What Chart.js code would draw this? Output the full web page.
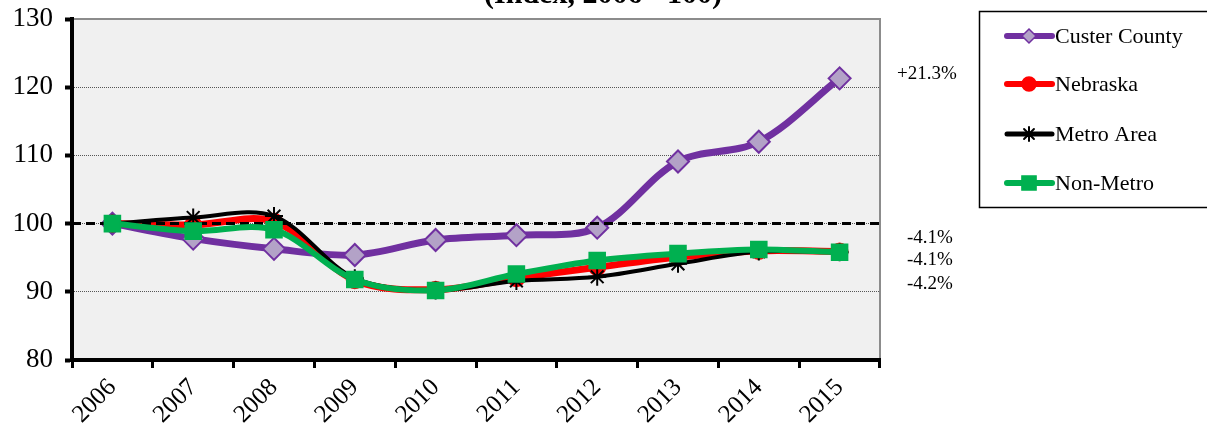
<!DOCTYPE html>
<html>
<head>
<meta charset="utf-8">
<script src="https://cdn.jsdelivr.net/npm/chart.js@4.4.1/dist/chart.umd.min.js"></script>
<style>
  html, body { margin: 0; padding: 0; background: #fff; }
  canvas { display: block; }
</style>
</head>
<body>
<canvas id="chart" width="1207" height="423"></canvas>
<script>
'use strict';

// ── Data ──────────────────────────────────────────────
const YEARS      = ['2006', '2007', '2008', '2009', '2010', '2011', '2012', '2013', '2014', '2015'];
const CUSTER     = [100, 97.8, 96.3, 95.4, 97.6, 98.3, 99.4, 109.1, 112.0, 121.3];
const NEBRASKA   = [100, 99.8, 100.3, 91.7, 90.3, 92.0, 93.6, 95.1, 96.0, 95.9];
const METRO      = [100, 100.9, 101.1, 92.0, 90.2, 91.6, 92.2, 94.1, 95.9, 95.8];
const NON_METRO  = [100, 98.9, 99.1, 91.8, 90.2, 92.6, 94.6, 95.6, 96.2, 95.8];
const Y_TICKS    = [80, 90, 100, 110, 120, 130];
const BASELINE   = 100;
const END_LABELS = [
  { text: '+21.3%', x: 897, y: 74 },
  { text: '-4.1%',  x: 907, y: 238 },
  { text: '-4.1%',  x: 907, y: 260 },
  { text: '-4.2%',  x: 907, y: 284 },
];
const TITLE = '(Index, 2006 =100)';

const SERIF = "'Liberation Serif', 'Times New Roman', serif";

const SERIES = [
  { label: 'Custer County', data: CUSTER,    color: '#7030a0', fill: '#b3a2c7', style: 'rectRot', r: 11, lw: 7, order: 3 },
  { label: 'Nebraska',      data: NEBRASKA,  color: '#ff0000', fill: '#ff0000', style: 'circle',  r: 8,  lw: 7, order: 2 },
  { label: 'Metro Area',    data: METRO,     color: '#000000', fill: '#000000', style: 'star',    r: 9,  lw: 4, order: 1 },
  { label: 'Non-Metro',     data: NON_METRO, color: '#00b050', fill: '#00b050', style: 'rect',    r: 11, lw: 6, order: 0 },
];

// ── Plugins ───────────────────────────────────────────

const plotBg = {
  id: 'plotBg',
  beforeDraw(chart) {
    const { ctx, chartArea: a } = chart;
    ctx.save();
    ctx.fillStyle = '#f0f0f0';
    ctx.fillRect(a.left, a.top, a.right - a.left, a.bottom - a.top);
    ctx.strokeStyle = '#8c8c8c';
    ctx.lineWidth = 2;
    ctx.beginPath();
    ctx.moveTo(a.left, a.top);
    ctx.lineTo(a.right, a.top);
    ctx.lineTo(a.right, a.bottom);
    ctx.stroke();
    ctx.restore();
  },
};

// dashed 100 line, drawn between the state series and the metro split
const baseLine = {
  id: 'baseLine',
  beforeDatasetDraw(chart, args) {
    if (args.index !== 2) return;
    const { ctx, chartArea: a } = chart;
    const y = chart.scales.y.getPixelForValue(BASELINE);
    ctx.save();
    ctx.strokeStyle = '#000';
    ctx.lineWidth = 3;
    ctx.setLineDash([9, 5]);
    ctx.beginPath();
    ctx.moveTo(a.left, y);
    ctx.lineTo(a.right, y);
    ctx.stroke();
    ctx.restore();
  },
};

const extras = {
  id: 'extras',
  afterDraw(chart) {
    const { ctx } = chart;
    ctx.save();

    // title (top is clipped off in the original)
    ctx.fillStyle = '#000';
    ctx.font = `bold 30px ${SERIF}`;
    ctx.textAlign = 'center';
    ctx.textBaseline = 'alphabetic';
    ctx.fillText(TITLE, 603, 3);

    // end-of-line change labels
    ctx.font = `19px ${SERIF}`;
    ctx.textBaseline = 'middle';
    ctx.textAlign = 'left';
    END_LABELS.forEach(l => ctx.fillText(l.text, l.x, l.y));

    // legend box
    ctx.lineWidth = 1.5;
    ctx.strokeStyle = '#000';
    ctx.strokeRect(979.5, 11.5, 240, 196);

    const draw = Chart.helpers && Chart.helpers.drawPoint;
    const rows = [36, 84, 134, 183];
    ctx.font = `22px ${SERIF}`;
    SERIES.forEach((s, i) => {
      const y = rows[i];
      ctx.strokeStyle = s.color;
      ctx.lineWidth = s.style === 'star' ? 5 : 6;
      ctx.lineCap = 'round';
      ctx.setLineDash([]);
      ctx.beginPath();
      ctx.moveTo(1007, y);
      ctx.lineTo(1052, y);
      ctx.stroke();
      if (draw) {
        ctx.fillStyle = s.fill;
        ctx.strokeStyle = s.color;
        ctx.lineWidth = s.style === 'star' ? 2 : 1.5;
        draw(ctx, { pointStyle: s.style, radius: s.style === 'rect' ? 10 : 7, rotation: 0, borderWidth: ctx.lineWidth }, 1029, y);
      }
      ctx.fillStyle = '#000';
      ctx.fillText(s.label, 1055, y + 1);
    });

    ctx.restore();
  },
};

// ── Chart ─────────────────────────────────────────────

new Chart(document.getElementById('chart'), {
  type: 'line',
  data: {
    labels: YEARS,
    datasets: SERIES.map(s => ({
      label: s.label,
      data: s.data,
      order: s.order,
      borderColor: s.color,
      backgroundColor: s.fill,
      borderWidth: s.lw,
      tension: 0.33,
      pointStyle: s.style,
      pointRadius: s.r,
      pointBackgroundColor: s.fill,
      pointBorderColor: s.color,
      pointBorderWidth: 2,
      fill: false,
    })),
  },
  options: {
    responsive: false,
    animation: false,
    events: [],
    layout: { padding: { left: 0, top: 19, right: 327, bottom: 0 } },
    plugins: {
      legend:  { display: false },
      tooltip: { enabled: false },
    },
    scales: {
      x: {
        offset: true,
        afterFit: (scale) => { scale.height = 63; },
        grid: {
          display: true,
          offset: true,
          drawOnChartArea: false,
          drawTicks: true,
          tickLength: 8,
          tickWidth: 3,
          tickColor: '#000',
        },
        border: { display: true, color: '#000', width: 4 },
        ticks: {
          color: '#000',
          font: { family: SERIF, size: 25 },
          minRotation: 45,
          maxRotation: 45,
          padding: 5,
          autoSkip: false,
        },
      },
      y: {
        min: 80,
        max: 130,
        afterFit: (scale) => {
          scale.width = 72;
          scale.paddingTop = 0;
          scale.paddingBottom = 0;
        },
        afterBuildTicks: (scale) => { scale.ticks = Y_TICKS.map(v => ({ value: v })); },
        grid: {
          color: (c) => (c.tick && (c.tick.value === 80 || c.tick.value === 130)) ? 'rgba(0,0,0,0)' : '#555',
          lineWidth: 1,
          drawTicks: true,
          tickLength: 7,
          tickWidth: 4,
          tickColor: '#000',
          tickBorderDash: [],
        },
        border: { display: true, color: '#000', width: 4, dash: [1, 1] },
        ticks: {
          color: '#000',
          font: { family: SERIF, size: 27 },
          padding: 12,
        },
      },
    },
  },
  plugins: [plotBg, baseLine, extras],
});
</script>
</body>
</html>
